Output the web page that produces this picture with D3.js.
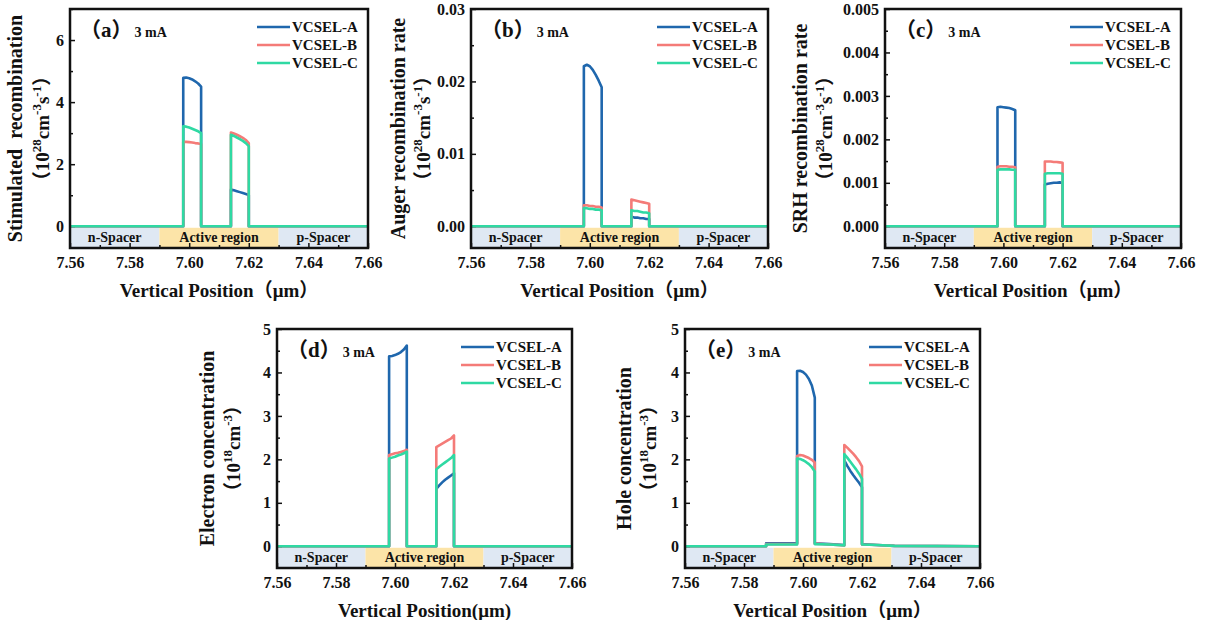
<!DOCTYPE html>
<html>
<head>
<meta charset="utf-8">
<script src="https://cdn.jsdelivr.net/npm/d3@7"></script>
<style>
  body { margin: 0; background: #fff; }
  svg { display: block; }
  text { font-family: "Liberation Serif", "Times New Roman", "Noto Sans CJK SC", serif; font-weight: bold; fill: #111; white-space: pre; }
</style>
</head>
<body>
<div id="chart"></div>
<script>
// shared x positions (um)
const xPos = [7.56, 7.5875, 7.5875, 7.598, 7.598, 7.599, 7.600, 7.601, 7.602, 7.603, 7.604, 7.604,
  7.609, 7.614, 7.614, 7.615, 7.616, 7.617, 7.618, 7.619, 7.620, 7.620, 7.625, 7.631, 7.66];

const seriesNames = ["VCSEL-A", "VCSEL-B", "VCSEL-C"];
const seriesColors = ["#1f67ad", "#f47b78", "#2fd9a3"];

// (a) stimulated recombination, 1e28 cm^-3 s^-1
const stimA = [0, 0, 0, 0, 4.78, 4.79, 4.77, 4.73, 4.67, 4.60, 4.50, 0, 0, 0, 1.18, 1.16, 1.13, 1.10, 1.07, 1.04, 1.01, 0, 0, 0, 0];
const stimB = [0, 0, 0, 0, 2.72, 2.72, 2.71, 2.70, 2.68, 2.67, 2.65, 0, 0, 0, 3.02, 2.99, 2.95, 2.90, 2.85, 2.78, 2.68, 0, 0, 0, 0];
const stimC = [0, 0, 0, 0, 3.22, 3.21, 3.18, 3.14, 3.10, 3.06, 3.00, 0, 0, 0, 2.95, 2.91, 2.86, 2.81, 2.75, 2.68, 2.58, 0, 0, 0, 0];

// (b) Auger recombination rate
const augerA = [0, 0, 0, 0, 0.0221, 0.0223, 0.0221, 0.0216, 0.0209, 0.0201, 0.0192, 0, 0, 0, 0.0013, 0.0012, 0.0012, 0.0011, 0.0011, 0.0010, 0.0010, 0, 0, 0, 0];
const augerB = [0, 0, 0, 0, 0.0029, 0.0029, 0.0028, 0.0028, 0.0027, 0.0027, 0.0026, 0, 0, 0, 0.0037, 0.0036, 0.0035, 0.0034, 0.0033, 0.0032, 0.0031, 0, 0, 0, 0];
const augerC = [0, 0, 0, 0, 0.0025, 0.0025, 0.0024, 0.0024, 0.0023, 0.0023, 0.0022, 0, 0, 0, 0.0022, 0.0021, 0.0021, 0.0020, 0.0019, 0.0019, 0.0018, 0, 0, 0, 0];

// (c) SRH recombination rate
const srhA = [0, 0, 0, 0, 0.00274, 0.00275, 0.00274, 0.00273, 0.00272, 0.00270, 0.00267, 0, 0, 0, 0.00096, 0.00098, 0.00099, 0.00100, 0.00100, 0.00101, 0.00100, 0, 0, 0, 0];
const srhB = [0, 0, 0, 0, 0.00137, 0.00138, 0.00138, 0.00138, 0.00137, 0.00137, 0.00136, 0, 0, 0, 0.00149, 0.00149, 0.00149, 0.00148, 0.00148, 0.00147, 0.00146, 0, 0, 0, 0];
const srhC = [0, 0, 0, 0, 0.00130, 0.00131, 0.00131, 0.00131, 0.00131, 0.00130, 0.00130, 0, 0, 0, 0.00121, 0.00122, 0.00122, 0.00122, 0.00122, 0.00122, 0.00121, 0, 0, 0, 0];

// (d) electron concentration, 1e18 cm^-3
const elecA = [0, 0, 0, 0, 4.37, 4.38, 4.40, 4.43, 4.47, 4.53, 4.62, 0, 0, 0, 1.32, 1.40, 1.47, 1.53, 1.58, 1.63, 1.68, 0, 0, 0, 0];
const elecB = [0, 0, 0, 0, 2.10, 2.12, 2.14, 2.15, 2.17, 2.19, 2.22, 0, 0, 0, 2.28, 2.32, 2.36, 2.40, 2.44, 2.48, 2.55, 0, 0, 0, 0];
const elecC = [0, 0, 0, 0, 2.02, 2.04, 2.06, 2.09, 2.11, 2.14, 2.18, 0, 0, 0, 1.77, 1.83, 1.88, 1.93, 1.98, 2.03, 2.10, 0, 0, 0, 0];

// (e) hole concentration, 1e18 cm^-3
const holeA = [0, 0, 0.07, 0.07, 4.03, 4.04, 4.01, 3.95, 3.85, 3.70, 3.42, 0.07, 0.05, 0.03, 1.98, 1.85, 1.74, 1.64, 1.55, 1.46, 1.36, 0.05, 0.03, 0.01, 0];
const holeB = [0, 0, 0.05, 0.05, 2.08, 2.10, 2.09, 2.06, 2.03, 1.99, 1.93, 0.06, 0.04, 0.02, 2.33, 2.27, 2.20, 2.13, 2.05, 1.96, 1.84, 0.04, 0.03, 0.01, 0];
const holeC = [0, 0, 0.04, 0.04, 2.02, 2.01, 1.98, 1.94, 1.89, 1.82, 1.72, 0.05, 0.04, 0.02, 2.12, 2.04, 1.95, 1.86, 1.77, 1.67, 1.55, 0.04, 0.03, 0.01, 0];

// layer bands
const bandNames = ["n-Spacer", "Active region", "p-Spacer"];
const bandStart = [7.56, 7.59, 7.63];
const bandEnd = [7.59, 7.63, 7.66];
const bandColors = ["#dfe8f3", "#fce4a8", "#dfe8f3"];

const xTicks = [7.56, 7.58, 7.60, 7.62, 7.64, 7.66];
const xMinor = [7.57, 7.59, 7.61, 7.63, 7.65];

const supRate = [["（10", 0], ["28", 1], ["cm", 0], ["-3", 1], ["s", 0], ["-1", 1], ["）", 0]];
const supConc = [["（10", 0], ["18", 1], ["cm", 0], ["-3", 1], ["）", 0]];

const FONT = '"Liberation Serif", "Times New Roman", "Noto Sans CJK SC", serif';
const W = 1206, H = 620;
const svg = d3.select("#chart").append("svg")
  .attr("width", W).attr("height", H);

function drawPanel(p) {
  const x = d3.scaleLinear().domain([7.56, 7.66]).range([p.left, p.right]);
  const y = d3.scaleLinear().domain(p.yDomain).range([p.bottom, p.top]);
  const g = svg.append("g");

  // bands
  bandNames.forEach((name, i) => {
    g.append("rect")
      .attr("x", x(bandStart[i]))
      .attr("y", y(0) + 1.5)
      .attr("width", x(bandEnd[i]) - x(bandStart[i]))
      .attr("height", p.bottom - y(0) - 1.5)
      .attr("fill", bandColors[i]);
    g.append("text")
      .attr("x", (x(bandStart[i]) + x(bandEnd[i])) / 2)
      .attr("y", (y(0) + p.bottom) / 2 + 5)
      .attr("text-anchor", "middle")
      .style("font-size", "14px")
      .text(name);
  });

  // axes
  g.append("g").attr("transform", `translate(${p.left},0)`)
    .call(d3.axisLeft(y).tickValues(p.yTicks).tickSize(-5).tickPadding(6).tickFormat(d3.format(p.fmt)));
  g.append("g").attr("transform", `translate(${p.left},0)`)
    .call(d3.axisLeft(y).tickValues(p.yMinor).tickSize(-3).tickFormat(""));
  g.append("g").attr("transform", `translate(0,${p.bottom})`)
    .call(d3.axisBottom(x).tickValues(xTicks).tickSize(-5).tickPadding(9).tickFormat(d3.format(".2f")));
  g.append("g").attr("transform", `translate(0,${p.bottom})`)
    .call(d3.axisBottom(x).tickValues(xMinor).tickSize(-3).tickFormat(""));
  g.selectAll(".domain").remove();
  g.selectAll(".tick line").attr("stroke", "#111").attr("stroke-width", 1.5);
  g.selectAll(".tick text").style("font-size", "16px").attr("fill", "#111");

  // curves
  const line = d3.line().x((d, i) => x(xPos[i])).y(d => y(d));
  p.series.forEach((s, k) => {
    g.append("path")
      .datum(s)
      .attr("d", line)
      .attr("fill", "none")
      .attr("stroke", seriesColors[k])
      .attr("stroke-width", 2.6)
      .attr("stroke-linejoin", "round");
  });

  // frame
  g.append("rect")
    .attr("x", p.left).attr("y", p.top)
    .attr("width", p.right - p.left).attr("height", p.bottom - p.top)
    .attr("fill", "none").attr("stroke", "#111").attr("stroke-width", 2.5);

  // legend
  seriesNames.forEach((name, k) => {
    const ly = p.top + 18 + k * 18;
    g.append("line")
      .attr("x1", p.right - 111).attr("x2", p.right - 78)
      .attr("y1", ly).attr("y2", ly)
      .attr("stroke", seriesColors[k]).attr("stroke-width", 2.6);
    g.append("text")
      .attr("x", p.right - 76).attr("y", ly + 5)
      .style("font-size", "15px")
      .text(name);
  });

  // panel label
  const lab = g.append("text")
    .attr("x", p.left + 10).attr("y", p.top + 28)
    .style("font-size", "21px");
  lab.append("tspan").text(p.label);
  lab.append("tspan").style("font-size", "14px").attr("dx", 2).text("3 mA");

  // x title
  g.append("text")
    .attr("x", (p.left + p.right) / 2)
    .attr("y", p.bottom + 49)
    .attr("text-anchor", "middle")
    .style("font-size", "19px")
    .text(p.xTitle);

  // y title (two lines)
  const cy = (p.top + p.bottom) / 2;
  g.append("text")
    .attr("transform", `translate(${p.yTitleX},${cy}) rotate(-90)`)
    .attr("text-anchor", "middle")
    .style("font-size", "20px")
    .text(p.yTitle);
  const t2 = g.append("text")
    .attr("transform", `translate(${p.yUnitX},${cy}) rotate(-90)`)
    .attr("text-anchor", "middle")
    .style("font-size", "19px");
  let up = false;
  p.yUnit.forEach(([txt, sup]) => {
    const ts = t2.append("tspan").text(txt);
    if (sup && !up) { ts.attr("dy", -8).style("font-size", "13px"); up = true; }
    else if (sup) { ts.style("font-size", "13px"); }
    else if (up) { ts.attr("dy", 8); up = false; }
  });

  g.selectAll("g").attr("font-family", null);
  g.selectAll("text").style("font-family", FONT).style("font-weight", "bold");
}

const topRow = { top: 9, bottom: 248 };
const botRow = { top: 329, bottom: 568 };

drawPanel({
  left: 70, right: 368, ...topRow,
  yDomain: [-0.7, 7], yTicks: [0, 2, 4, 6], yMinor: [1, 3, 5, 7], fmt: "d",
  series: [stimA, stimB, stimC], label: "（a）",
  xTitle: "Vertical Position（μm）",
  yTitle: "Stimulated  recombination", yUnit: supRate, yTitleX: 22, yUnitX: 49
});
drawPanel({
  left: 471, right: 768, ...topRow,
  yDomain: [-0.003, 0.03], yTicks: [0, 0.01, 0.02, 0.03], yMinor: [0.005, 0.015, 0.025], fmt: ".2f",
  series: [augerA, augerB, augerC], label: "（b）",
  xTitle: "Vertical Position（μm）",
  yTitle: "Auger recombination rate", yUnit: supRate, yTitleX: 405, yUnitX: 430
});
drawPanel({
  left: 885, right: 1181, ...topRow,
  yDomain: [-0.0005, 0.005], yTicks: [0, 0.001, 0.002, 0.003, 0.004, 0.005],
  yMinor: [0.0005, 0.0015, 0.0025, 0.0035, 0.0045], fmt: ".3f",
  series: [srhA, srhB, srhC], label: "（c）",
  xTitle: "Vertical Position（μm）",
  yTitle: "SRH recombination rate", yUnit: supRate, yTitleX: 807, yUnitX: 832
});
drawPanel({
  left: 277, right: 572, ...botRow,
  yDomain: [-0.5, 5], yTicks: [0, 1, 2, 3, 4, 5], yMinor: [0.5, 1.5, 2.5, 3.5, 4.5], fmt: "d",
  series: [elecA, elecB, elecC], label: "（d）",
  xTitle: "Vertical Position(μm)",
  yTitle: "Electron concentration", yUnit: supConc, yTitleX: 214, yUnitX: 240
});
drawPanel({
  left: 685, right: 980, ...botRow,
  yDomain: [-0.5, 5], yTicks: [0, 1, 2, 3, 4, 5], yMinor: [0.5, 1.5, 2.5, 3.5, 4.5], fmt: "d",
  series: [holeA, holeB, holeC], label: "（e）",
  xTitle: "Vertical Position（μm）",
  yTitle: "Hole concentration", yUnit: supConc, yTitleX: 631, yUnitX: 656
});
</script>
</body>
</html>
